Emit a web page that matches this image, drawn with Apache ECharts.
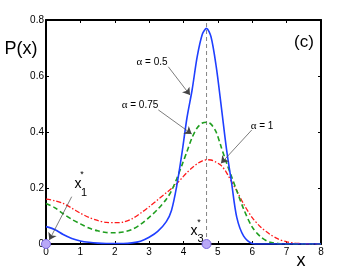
<!DOCTYPE html>
<html><head><meta charset="utf-8">
<script src="https://cdn.jsdelivr.net/npm/echarts@6/dist/echarts.min.js"></script>
<style>html,body{margin:0;padding:0;background:#fff}#c{width:354px;height:275px}</style>
</head><body><div id="c"></div>
<script>
// x positions where values were read
const xs = [0,0.25,0.5,0.75,1,1.25,1.5,1.75,2,2.25,2.5,2.75,3,3.25,3.5,3.65,3.8,3.95,4.1,4.25,4.4,4.55,4.67,4.8,4.95,5.1,5.25,5.4,5.55,5.75,6,6.25,6.5,6.75,7,7.25,7.5,7.75,8];
// alpha = 0.5 (blue, solid)
const pAlpha05 = [0.062,0.052,0.034,0.020,0.011,0.006,0.003,0.002,0.002,0.002,0.004,0.010,0.024,0.045,0.080,0.120,0.205,0.320,0.450,0.550,0.670,0.750,0.770,0.740,0.635,0.490,0.340,0.217,0.095,0.028,0.002,0,0,0,0,0,0,0,0];
// alpha = 0.75 (green, dashed)
const pAlpha075 = [0.145,0.130,0.108,0.088,0.072,0.057,0.047,0.041,0.040,0.043,0.052,0.070,0.095,0.124,0.160,0.190,0.232,0.280,0.330,0.380,0.415,0.432,0.435,0.428,0.400,0.345,0.290,0.240,0.190,0.125,0.060,0.025,0.007,0.002,0,0,0,0,0];
// alpha = 1 (red, dash-dot)
const pAlpha1 = [0.160,0.155,0.145,0.128,0.110,0.095,0.084,0.077,0.076,0.078,0.090,0.110,0.133,0.158,0.183,0.198,0.215,0.235,0.255,0.272,0.287,0.297,0.301,0.300,0.292,0.280,0.255,0.222,0.190,0.143,0.094,0.060,0.036,0.018,0.008,0.003,0.001,0,0];
const xStar3 = 4.67;
const fixedPoints = [[0, 0], [4.67, 0]];
const xTickLabels = ['0','1','2','3','4','5','6','7','8'];
const yTickLabels = ['0','0.2','0.4','0.6','0.8'];

const zip = (a, b) => a.map((v, i) => [v, b[i]]);
const font = 'Liberation Sans, Arial, Helvetica, sans-serif';
const chart = echarts.init(document.getElementById('c'), null, {renderer: 'canvas'});

const axisCommon = {
  type: 'value', min: 0,
  axisLine: {show: true, onZero: false, lineStyle: {color: '#000', width: 2}},
  axisTick: {show: true, inside: true, length: 3, lineStyle: {color: '#000', width: 1}},
  splitLine: {show: false}
};

const arrowLines = [
  [[3.558, 0.633], [4.189, 0.532]],
  [[3.267, 0.479], [4.239, 0.393]],
  [[5.984, 0.407], [5.091, 0.288]],
  [[0.748, 0.169], [0.096, 0.014]]
];

const alphaText = (t, x, y) => ({
  type: 'text', x: x, y: y, z: 100,
  style: {
    text: '{a|α}{n| = ' + t + '}',
    rich: {a: {fontFamily: 'Liberation Serif, serif', fontSize: 11, fill: '#000'}, n: {fontFamily: font, fontSize: 10, fill: '#000'}},
    align: 'center', verticalAlign: 'middle'
  }
});
const txt = (t, x, y, size) => ({
  type: 'text', x: x, y: y, z: 100,
  style: {text: t, fontFamily: font, fontSize: size, fill: '#000', align: 'center', verticalAlign: 'middle'}
});

chart.setOption({
  animation: false,
  backgroundColor: '#fff',
  grid: {left: 46, right: 33, top: 20, bottom: 31, containLabel: false},
  xAxis: [
    Object.assign({}, axisCommon, {position: 'bottom', max: 8, interval: 1,
      axisLabel: {show: true, margin: 3, fontSize: 10, color: '#000', fontFamily: font,
        formatter: v => xTickLabels[Math.round(v)]}}),
    Object.assign({}, axisCommon, {position: 'top', max: 8, interval: 1, axisLabel: {show: false}})
  ],
  yAxis: [
    Object.assign({}, axisCommon, {position: 'left', max: 0.8, interval: 0.2,
      axisLabel: {show: true, margin: 2, fontSize: 10, color: '#000', fontFamily: font,
        formatter: v => yTickLabels[Math.round(v / 0.2)]}}),
    Object.assign({}, axisCommon, {position: 'right', max: 0.8, interval: 0.2, axisLabel: {show: false}})
  ],
  series: [
    {
      type: 'line', data: [[xStar3, 0], [xStar3, 0.8]], symbol: 'none', z: 1,
      lineStyle: {color: '#666', width: 0.8, type: [4, 3]},
      markLine: {
        silent: true, symbol: ['none', 'arrow'], symbolSize: 7,
        label: {show: false},
        lineStyle: {color: '#444', width: 0.7, type: 'solid'},
        emphasis: {disabled: true},
        data: arrowLines.map(p => [{coord: p[0]}, {coord: p[1]}])
      }
    },
    {type: 'line', data: zip(xs, pAlpha1), smooth: 0.3, symbol: 'none', z: 2,
      lineStyle: {color: '#ff1a1a', width: 1.3, type: [5, 2, 1.5, 2]}},
    {type: 'line', data: zip(xs, pAlpha075), smooth: 0.3, symbol: 'none', z: 3,
      lineStyle: {color: '#1f9e1f', width: 1.6, type: [5, 3]}},
    {type: 'line', data: zip(xs, pAlpha05), smooth: 0.3, symbol: 'none', z: 4,
      lineStyle: {color: '#1f3fff', width: 1.6}},
    {type: 'scatter', data: fixedPoints, symbolSize: 9, clip: false, z: 10,
      itemStyle: {color: '#b9a8f7', borderColor: '#7a68e0', borderWidth: 1, opacity: 1}}
  ],
  graphic: [
    txt('P(x)', 21, 49, 18),
    txt('x', 301, 261, 18),
    txt('(c)', 304, 42, 17),
    alphaText('0.5', 152, 62),
    alphaText('0.75', 140, 105),
    alphaText('1', 262, 126),
    txt('x', 78, 184, 14), txt('*', 82, 175, 9), txt('1', 84, 193, 11),
    txt('x', 194, 231, 14), txt('*', 199, 223, 9), txt('3', 200.5, 239, 11)
  ]
});
</script></body></html>
